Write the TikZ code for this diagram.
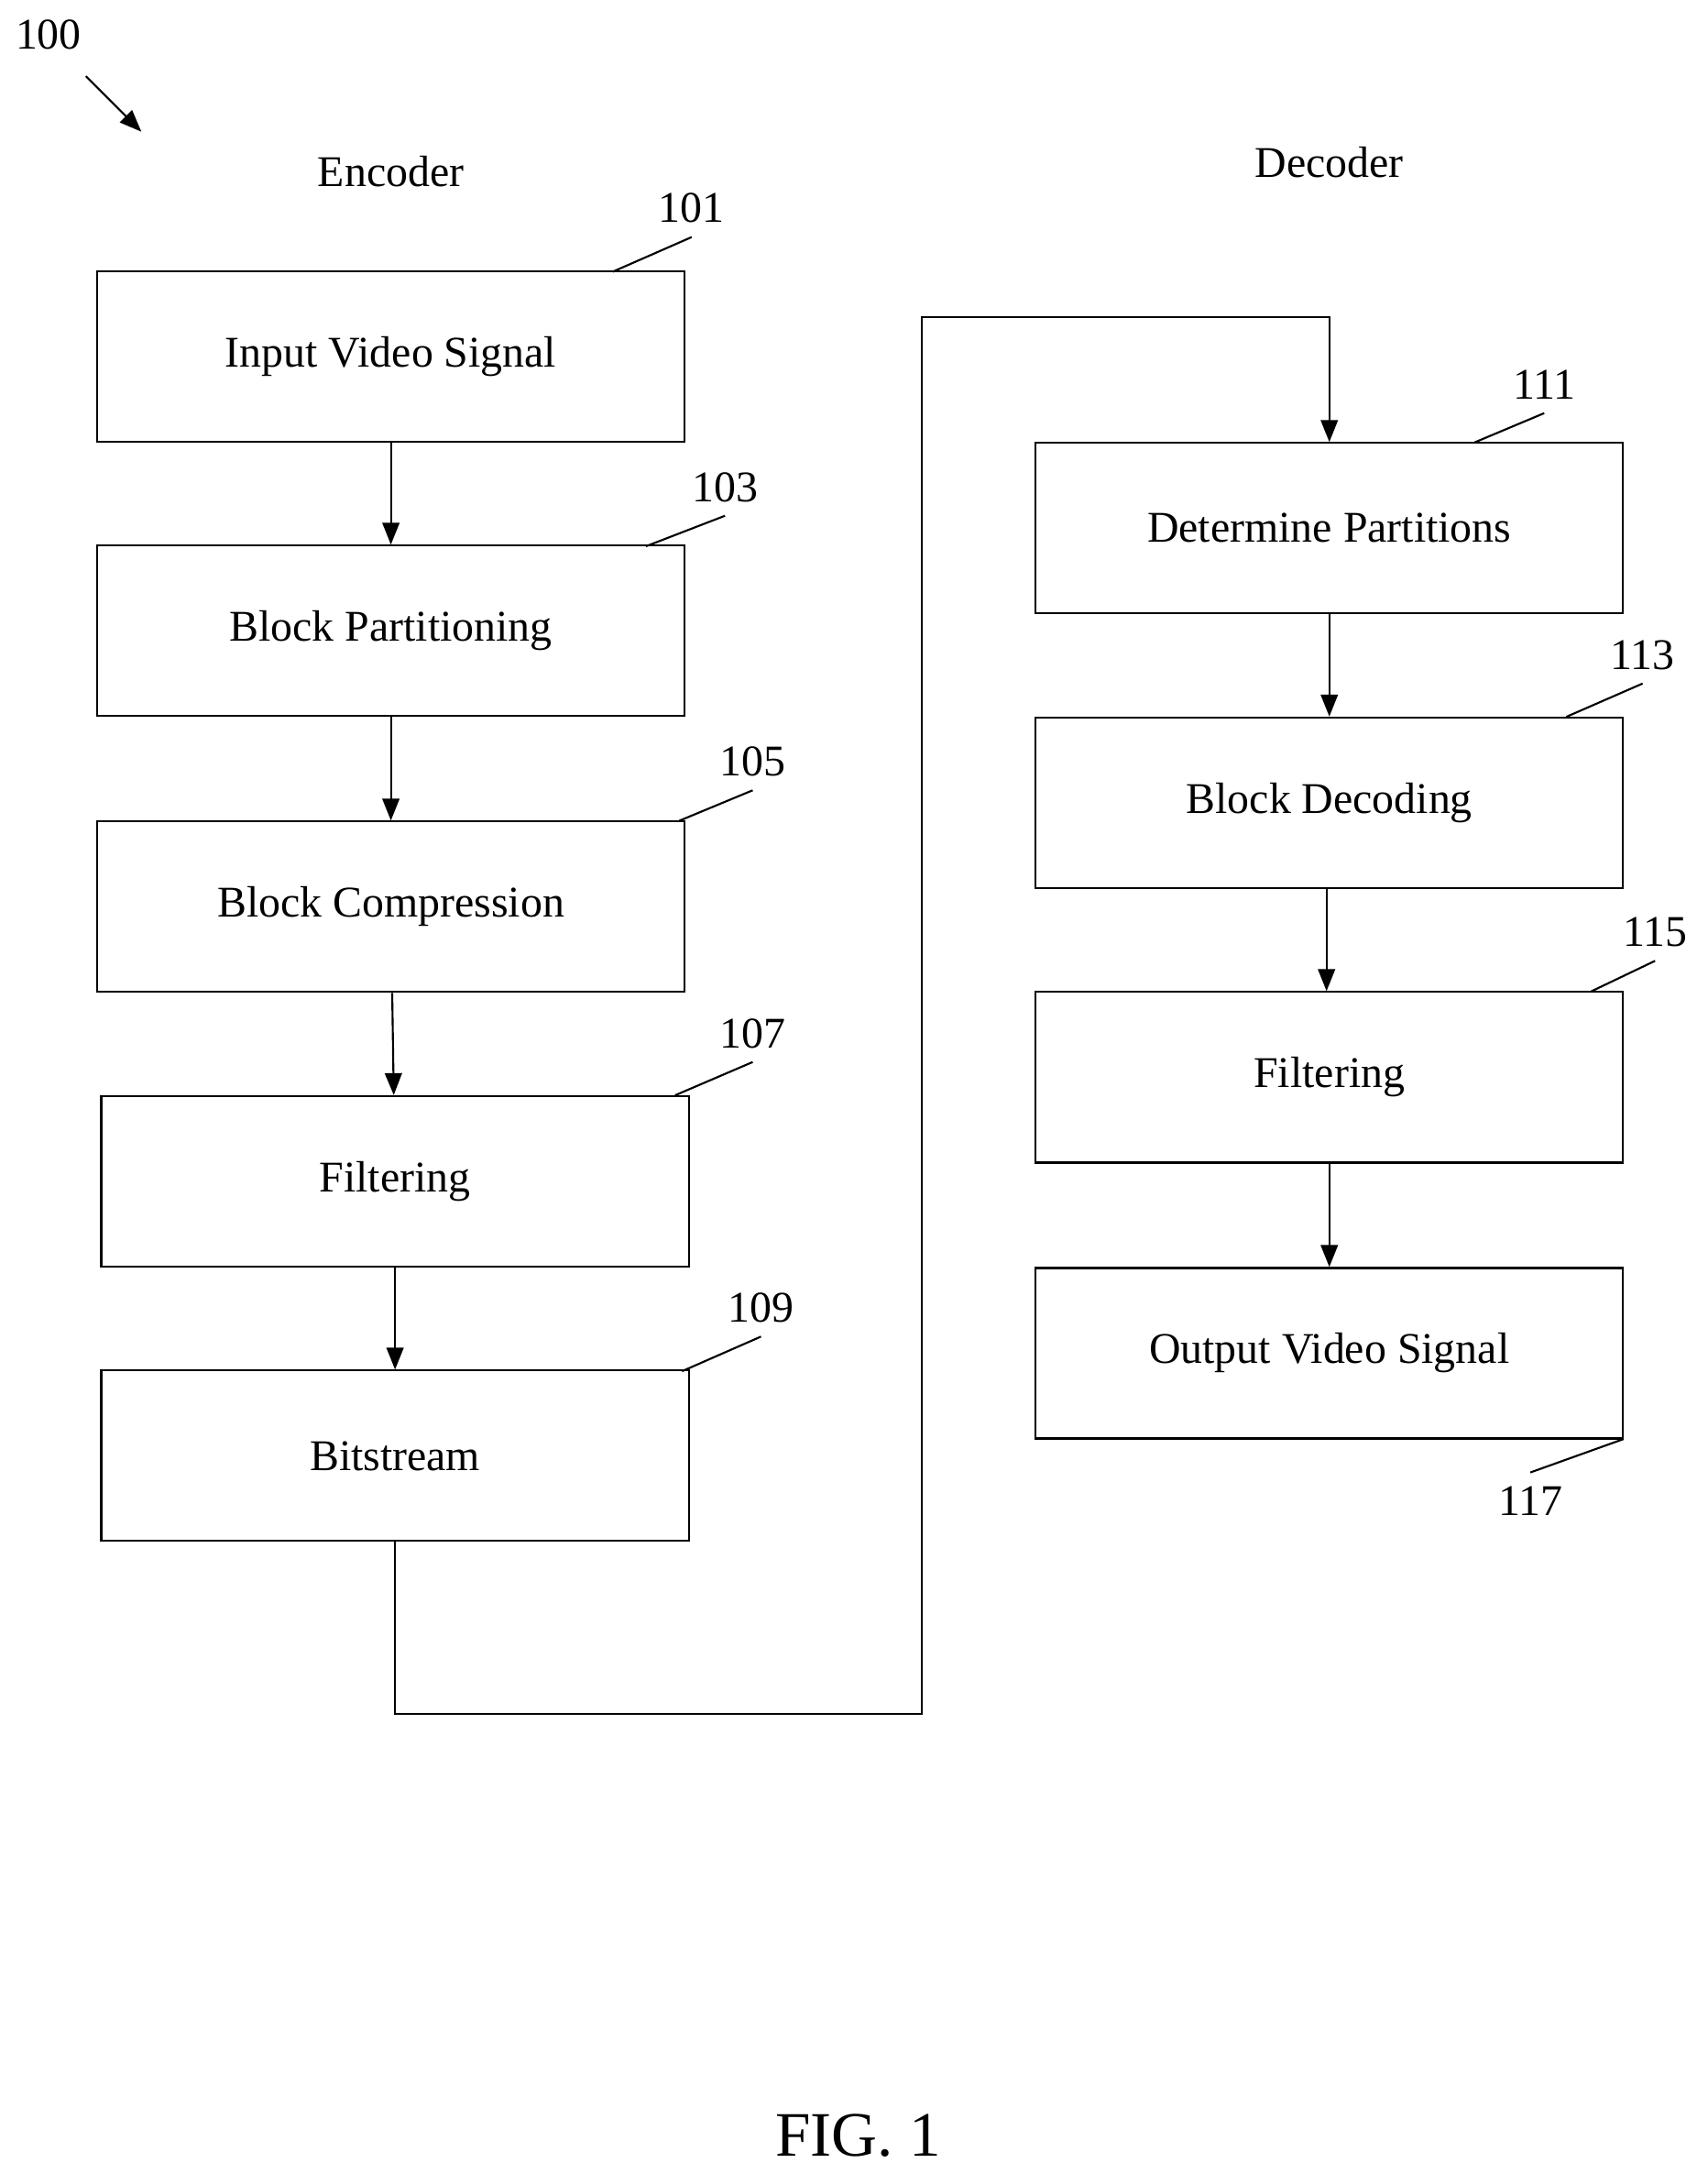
\documentclass[tikz,border=0pt]{standalone}
\usepackage{fontspec}
\setmainfont{Liberation Serif}
\usetikzlibrary{positioning,arrows.meta}

\begin{document}
\begin{tikzpicture}[x=0.02cm,y=-0.02cm,
    blk/.style={draw,thick,minimum width=8.48cm,minimum height=2.46cm,font=\fontsize{18}{20}\selectfont},
    lbl/.style={font=\fontsize{18}{20}\selectfont},
    flow/.style={thick,-{Triangle[length=9pt,width=7pt]}}]
\useasboundingbox (0,0) rectangle (1232,1568);

% Titles
\node[lbl] (t100) at (35,25) {100};
\draw[thick,-{Triangle[length=9pt,width=7pt]}] (62,55) -- (102,95);
\node[lbl] (enc) at (282,124) {Encoder};
\node[lbl] (dec) at (959,117) {Decoder};

% Encoder boxes
\node[blk] (inp) at (282,257) {Input Video Signal};
\node[blk] (part) at (282,455) {Block Partitioning};
\node[blk] (comp) at (282,654) {Block Compression};
\node[blk] (filt) at (285,852) {Filtering};
\node[blk] (bits) at (285,1050) {Bitstream};

% Decoder boxes
\node[blk] (det) at (959,381) {Determine Partitions};
\node[blk] (bdec) at (959,579) {Block Decoding};
\node[blk] (dfilt) at (959,777) {Filtering};
\node[blk] (out) at (959,976) {Output Video Signal};

% Arrows
\draw[flow] (inp) -- (part);
\draw[flow] (part) -- (comp);
\draw[flow] (comp) -- (filt);
\draw[flow] (filt) -- (bits);
\coordinate (c1) at (285,1236);
\coordinate (c2) at (665,1236);
\coordinate (c3) at (665,229);
\coordinate (c4) at (959,229);
\draw[flow] (bits.south) -- (c1) -- (c2) -- (c3) -- (c4) -- (det.north);
\draw[flow] (det) -- (bdec);
\draw[flow] (bdec.south -| 957,0) -- (dfilt.north -| 957,0);
\draw[flow] (dfilt) -- (out);

% Reference numerals
\foreach \a/\b/\n/\lx/\ly in {442/196/101/499/171, 466/394/103/523/372, 490/592/105/543/570,
    487/790/107/543/766, 492/989/109/549/964, 1064/319/111/1114/298,
    1130/517/113/1185/493, 1148/715/115/1194/693}{
  \draw[thick] (\a,\b) -- (\lx,\ly) node[lbl,above=2pt] {\n};
}
\draw[thick] (1171,1038) -- (1104,1062) node[lbl,below=2pt] {117};

\node[font=\fontsize{26}{28}\selectfont] (fig) at (619,1540) {FIG. 1};
\end{tikzpicture}
\end{document}
